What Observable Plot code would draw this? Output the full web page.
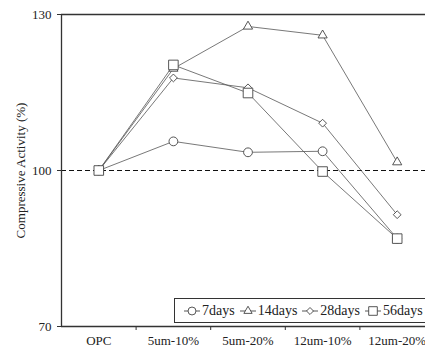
<!DOCTYPE html>
<html>
<head>
<meta charset="utf-8">
<script src="https://cdn.jsdelivr.net/npm/d3@7"></script>
<script src="https://cdn.jsdelivr.net/npm/@observablehq/plot@0.6"></script>
<style>
  html, body { margin: 0; padding: 0; background: #fff; overflow: hidden; }
  #wrap { position: relative; width: 425px; height: 349px; overflow: hidden; font-family: "Liberation Serif", "Times New Roman", serif; }
  #legend { position: absolute; left: 174px; top: 298px; height: 23px; width: 280px; border: 1px solid #333; background: #fff; display: flex; align-items: center; font-size: 14px; color: #222; white-space: nowrap; }
  #legend .item { display: flex; align-items: center; margin-left: 5px; }
  #legend .item:first-child { margin-left: 9px; }
  #legend .item span { margin-left: 2px; }
  #legend svg { display: block; }
</style>
</head>
<body>
<div id="wrap"></div>
<script>
const categories = ["OPC", "5um-10%", "5um-20%", "12um-10%", "12um-20%"];
const seriesNames = ["7days", "14days", "28days", "56days"];
const days7  = [100, 105.6, 103.5, 103.7, 86.9];
const days14 = [100, 119.6, 127.7, 126.0, 101.6];
const days28 = [100, 117.8, 115.9, 109.1, 91.5];
const days56 = [100, 120.3, 114.9, 99.8, 86.9];
const yTicks = [70, 100, 130];
const symbols = ["circle", "triangle", "diamond2", "square"];
const radii = [4.4, 3.4, 3.5, 5.4];

const seriesValues = [days7, days14, days28, days56];
const data = [];
seriesNames.forEach((s, k) => seriesValues[k].forEach((v, i) => data.push({series: s, i, v})));

const stroke = "#444";
const chart = Plot.plot({
  width: 425,
  height: 349,
  marginLeft: 61,
  marginTop: 14,
  marginBottom: 23,
  marginRight: 0,
  style: {fontFamily: "'Liberation Serif', 'Times New Roman', serif", fontSize: "13px", color: "#222", background: "white", overflow: "hidden"},
  x: {type: "linear", domain: [-0.5, 4.5], range: [61, 434]},
  y: {domain: [70, 130]},
  marks: [
    Plot.ruleY([100], {stroke: "#111", strokeWidth: 1.2, strokeDasharray: "5,3"}),
    Plot.ruleY([70, 130], {stroke: "#333", strokeWidth: 1.3}),
    Plot.ruleX([-0.5], {stroke: "#333", strokeWidth: 1.3}),
    Plot.axisY({ticks: yTicks, tickSize: 4, tickPadding: 6, label: null, fontSize: 13, stroke: "#333"}),
    Plot.axisX({ticks: [0.5, 1.5, 2.5, 3.5], tickSize: 4, tickFormat: () => "", label: null, stroke: "#333"}),
    Plot.axisX({ticks: [0, 1, 2, 3, 4], tickSize: 0, tickPadding: 9, tickFormat: i => categories[i], label: null, fontSize: 13}),
    Plot.text(["Compressive Activity (%)"], {frameAnchor: "left", textAnchor: "middle", rotate: -90, dx: -41, fontSize: 13, fill: "#222"}),
    Plot.line(data, {x: "i", y: "v", z: "series", stroke: "#555", strokeWidth: 0.8}),
    ...seriesNames.map((s, k) => Plot.dot(data.filter(d => d.series === s), {x: "i", y: "v", symbol: symbols[k], r: radii[k], fill: "white", stroke: stroke, strokeWidth: 0.9}))
  ]
});
const wrap = document.getElementById("wrap");
wrap.appendChild(chart);

// legend
const legend = document.createElement("div");
legend.id = "legend";
const sym = {
  circle: d3.symbolCircle, triangle: d3.symbolTriangle, diamond2: d3.symbolDiamond2, square: d3.symbolSquare
};
seriesNames.forEach((s, k) => {
  const item = document.createElement("div");
  item.className = "item";
  const w = 16, h = 14;
  const svg = d3.create("svg").attr("width", w).attr("height", h);
  svg.append("line").attr("x1", 0).attr("x2", w).attr("y1", h / 2).attr("y2", h / 2).attr("stroke", "#444").attr("stroke-width", 0.9);
  const r = radii[k] * 0.9;
  svg.append("path").attr("d", d3.symbol(sym[symbols[k]], Math.PI * r * r)()).attr("transform", `translate(${w / 2},${h / 2})`).attr("fill", "white").attr("stroke", "#444").attr("stroke-width", 0.9);
  item.appendChild(svg.node());
  const t = document.createElement("span");
  t.textContent = s;
  item.appendChild(t);
  legend.appendChild(item);
});
wrap.appendChild(legend);
</script>
</body>
</html>
